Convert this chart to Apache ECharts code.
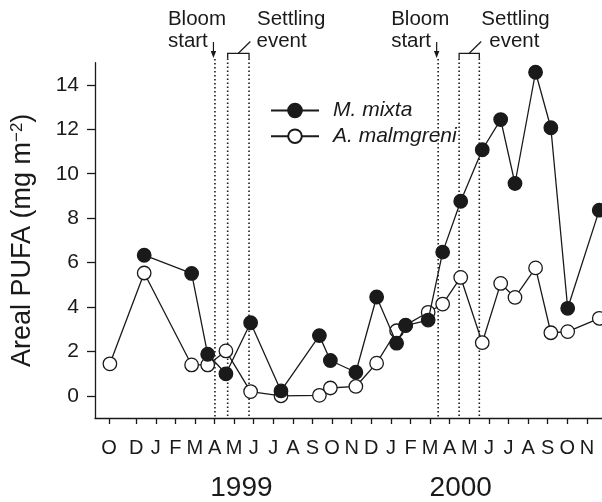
<!DOCTYPE html>
<html><head><meta charset="utf-8">
<script src="https://cdn.jsdelivr.net/npm/echarts@6/dist/echarts.min.js"></script>
<style>html,body{margin:0;padding:0;background:#fff}#c{width:602px;height:502px}</style>
</head><body><div id="c"></div>
<script>
// Sampling times, in months after the start of December 1998 (tick "D" = 0)
const sampleMonths = [-1.34, 0.41, 2.83, 3.65, 4.58, 5.84, 7.39, 9.35, 9.91, 11.21, 12.27, 13.29, 13.75, 14.90, 15.64, 16.56, 17.66, 18.60, 19.33, 20.38, 21.16, 22.02, 23.63];
const mixta =     [null, 6.33, 5.51, 1.87, 0.99, 3.29, 0.22, 2.71, 1.59, 1.06, 4.45, 2.37, 3.16, 3.41, 6.47, 8.76, 11.08, 12.44, 9.56, 14.57, 12.07, 3.94, 8.36];
const malmgreni = [1.44, 5.53, 1.39, 1.39, 2.02, 0.19, 0.00, 0.02, 0.35, 0.42, 1.47, 2.93, 3.18, 3.76, 4.13, 5.33, 2.39, 5.06, 4.43, 5.76, 2.84, 2.89, 3.49];
const monthTicks = [-1.39, 0, 1, 2, 3, 4, 5, 6, 7, 8, 9, 10, 11, 12, 13, 14, 15, 16, 17, 18, 19, 20, 21, 22, 23];
const monthLabels = ['O','D','J','F','M','A','M','J','J','A','S','O','N','D','J','F','M','A','M','J','J','A','S','O','N'];
const yTicks = [0, 2, 4, 6, 8, 10, 12, 14];
const bloomStart = [4.02, 15.41];
const settlingEvent = [[4.67, 5.76], [16.48, 17.51]];
const yearLabels = ['1999', '2000'];
const yearCenters = [5.37, 16.56];
const seriesNames = ['M. mixta', 'A. malmgreni'];

const FONT = 'Liberation Sans, Arial, Helvetica, sans-serif';
const INK = '#1a1a1a';

const chart = echarts.init(document.getElementById('c'), null, {renderer: 'canvas'});

const option = {
  animation: false,
  backgroundColor: '#fff',
  grid: {left: 95, right: 0, top: 62.7, bottom: 84, containLabel: false, outerBoundsMode: 'none'},
  legend: {
    orient: 'vertical', left: 270, top: 100, padding: 0, itemWidth: 48, itemHeight: 17, itemGap: 4.7,
    data: seriesNames,
    textStyle: {fontFamily: FONT, fontSize: 21, fontStyle: 'italic', color: INK, padding: [0, 0, 0, 9]}
  },
  xAxis: {
    type: 'value', min: -2.1, max: 23.77,
    axisLine: {onZero: false, lineStyle: {color: INK, width: 1.3}},
    axisTick: {show: true, length: 6, customValues: monthTicks, lineStyle: {color: INK, width: 1.3}},
    axisLabel: {
      customValues: monthTicks, margin: 20, fontFamily: FONT, fontSize: 20, color: INK,
      formatter: v => monthLabels[monthTicks.indexOf(v)] || ''
    },
    splitLine: {show: false}
  },
  yAxis: {
    type: 'value', min: -1, max: 15,
    name: '{a|Areal PUFA (mg m}{s|\u22122}{a|)}',
    nameLocation: 'middle', nameGap: 59, nameMoveOverlap: false,
    nameTextStyle: {
      fontFamily: FONT, fontSize: 27, color: INK,
      rich: {
        a: {fontFamily: FONT, fontSize: 27, color: INK},
        s: {fontFamily: FONT, fontSize: 17, color: INK, verticalAlign: 'top'}
      }
    },
    axisLine: {show: true, onZero: false, lineStyle: {color: INK, width: 1.3}},
    axisTick: {show: true, length: 8, customValues: yTicks, lineStyle: {color: INK, width: 1.3}},
    axisLabel: {customValues: yTicks, margin: 16, fontFamily: FONT, fontSize: 21, color: INK},
    splitLine: {show: false}
  },
  series: [
    {
      name: seriesNames[1], type: 'line', z: 3,
      data: sampleMonths.map((m, i) => [m, malmgreni[i]]),
      symbol: 'circle', symbolSize: 13.5, showAllSymbol: true,
      lineStyle: {color: INK, width: 1.3},
      itemStyle: {color: '#fff', borderColor: INK, borderWidth: 1.3}
    },
    {
      name: seriesNames[0], type: 'line', z: 4,
      data: sampleMonths.map((m, i) => [m, mixta[i]]).filter(d => d[1] !== null),
      symbol: 'circle', symbolSize: 13.5, showAllSymbol: true,
      lineStyle: {color: INK, width: 1.3},
      itemStyle: {color: INK, borderColor: INK, borderWidth: 1.3}
    }
  ]
};
chart.setOption(option);

// Annotations anchored to the data axis
const px = v => chart.convertToPixel({gridIndex: 0}, [v, 0])[0];
const axisY = chart.convertToPixel({gridIndex: 0}, [0, -1])[1];
const dotted = {stroke: INK, lineWidth: 1.6, lineDash: [1.6, 2.4]};
const textStyle = (t, x, y) => ({type: 'text', z: 5, style: {text: t, x: x, y: y, fontFamily: FONT, fontSize: 20.5, fill: INK, textAlign: 'left', textVerticalAlign: 'middle'}});
const graphics = [];
bloomStart.forEach(b => {
  const x = px(b);
  graphics.push({type: 'line', z: 1, shape: {x1: x, y1: 59, x2: x, y2: axisY}, style: dotted});
  graphics.push({type: 'line', z: 5, shape: {x1: x - 1.5, y1: 42, x2: x - 1.5, y2: 53}, style: {stroke: INK, lineWidth: 1.2}});
  graphics.push({type: 'polygon', z: 5, shape: {points: [[x - 4.2, 51], [x + 1.2, 51], [x - 1.5, 58]]}, style: {fill: INK}});
  graphics.push(textStyle('Bloom', x - 47, 19.5));
  graphics.push(textStyle('start', x - 47, 41));
});
settlingEvent.forEach((s, i) => {
  const x1 = px(s[0]), x2 = px(s[1]);
  const mid = (x1 + x2) / 2;
  graphics.push({type: 'polyline', z: 5, shape: {points: [[x1, 58.5], [x1, 53.3], [x2, 53.3], [x2, 58.5]]}, style: {stroke: INK, lineWidth: 1.3, fill: null}});
  graphics.push({type: 'line', z: 1, shape: {x1: x1, y1: 58.5, x2: x1, y2: axisY}, style: dotted});
  graphics.push({type: 'line', z: 1, shape: {x1: x2, y1: 58.5, x2: x2, y2: axisY}, style: dotted});
  graphics.push({type: 'line', z: 5, shape: {x1: mid, y1: 53.3, x2: mid + 12, y2: 41.5}, style: {stroke: INK, lineWidth: 1.2}});
  const offS = i === 0 ? 8 : 2, offE = i === 0 ? 7.5 : 10;
  graphics.push(textStyle('Settling', x2 + offS, 19.5));
  graphics.push(textStyle('event', x2 + offE, 41));
});
yearLabels.forEach((t, i) => {
  graphics.push({type: 'text', z: 5, style: {text: t, x: px(yearCenters[i]), y: 488, fontFamily: FONT, fontSize: 28, fill: INK, textAlign: 'center', textVerticalAlign: 'middle'}});
});
chart.setOption({graphic: graphics});
</script>
</body></html>
